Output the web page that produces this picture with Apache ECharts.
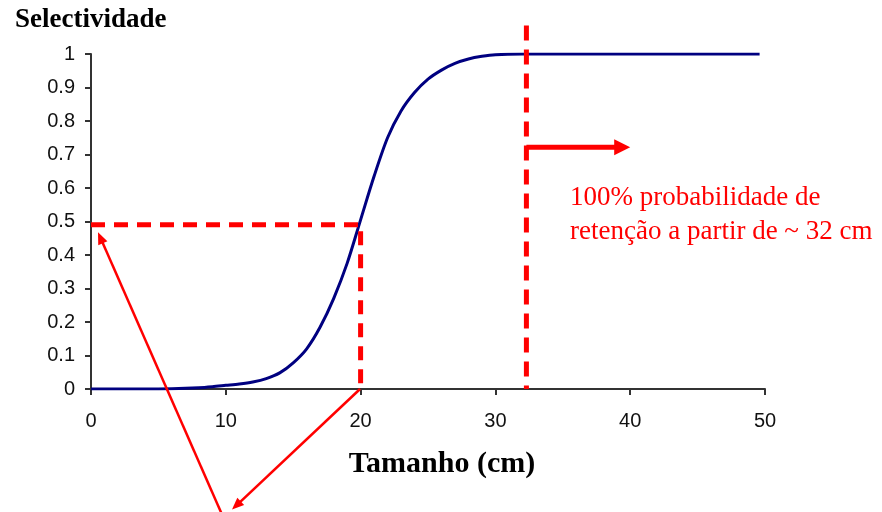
<!DOCTYPE html>
<html>
<head>
<meta charset="utf-8">
<script src="https://cdn.jsdelivr.net/npm/echarts@6/dist/echarts.min.js"></script>
<style>html,body{margin:0;padding:0;background:#fff}#c{width:882px;height:512px}</style>
</head>
<body>
<div id="c"></div>
<script>
// ---- data ----
var sizeCm      = [0, 2, 4, 6, 8, 9, 10, 11, 12, 13, 14, 15, 16, 17, 18, 19, 20, 21, 22, 23, 24, 25, 26, 27, 28, 29, 30, 32, 35, 40, 45, 49.6];
var selectivity = [0, 0, 0, 0.001, 0.004, 0.007, 0.011, 0.015, 0.021, 0.031, 0.048, 0.078, 0.12, 0.185, 0.27, 0.375, 0.505, 0.635, 0.75, 0.83, 0.885, 0.925, 0.952, 0.972, 0.985, 0.993, 0.998, 1, 1, 1, 1, 1];
var xTicks = [0, 10, 20, 30, 40, 50];
var yTicks = [0, 0.1, 0.2, 0.3, 0.4, 0.5, 0.6, 0.7, 0.8, 0.9, 1];
// annotation geometry (in data units)
var l50Path   = [[0, 0.49], [20, 0.49], [20, 0]];
var full100Path = [[32.3, 1.085], [32.3, 0]];
var rightArrow = [[32.3, 0.722, 40, 0.722]];
var pointerArrows = [[9.72, -0.375, 0.52, 0.468], [19.96, 0, 10.46, -0.36]];
var noteText = '100% probabilidade de\nretenção a partir de ~ 32 cm';
var yTitle = 'Selectividade';
var xTitle = 'Tamanho (cm)';

var curve = sizeCm.map(function (x, i) { return [x, selectivity[i]]; });

function arrowRenderer(lineW, headLen, headHalf) {
  return function (params, api) {
    var p1 = api.coord([api.value(0), api.value(1)]);
    var p2 = api.coord([api.value(2), api.value(3)]);
    var dx = p2[0] - p1[0], dy = p2[1] - p1[1];
    var len = Math.sqrt(dx * dx + dy * dy);
    var ux = dx / len, uy = dy / len;
    var bx = p2[0] - ux * headLen, by = p2[1] - uy * headLen;
    var nx = -uy, ny = ux;
    return {
      type: 'group',
      children: [
        { type: 'line', shape: { x1: p1[0], y1: p1[1], x2: bx + ux * 1, y2: by + uy * 1 },
          style: { stroke: '#ff0000', lineWidth: lineW } },
        { type: 'polygon', shape: { points: [[p2[0], p2[1]], [bx + nx * headHalf, by + ny * headHalf], [bx - nx * headHalf, by - ny * headHalf]] },
          style: { fill: '#ff0000' } }
      ]
    };
  };
}

var chart = echarts.init(document.getElementById('c'));
chart.setOption({
  animation: false,
  backgroundColor: '#ffffff',
  grid: { left: 91, right: 117, top: 54, bottom: 123, containLabel: false },
  xAxis: {
    type: 'value', min: xTicks[0], max: xTicks[xTicks.length - 1], interval: 10,
    axisLine: { show: true, onZero: false, lineStyle: { color: '#333', width: 2 } },
    axisTick: { show: true, length: 6, lineStyle: { color: '#333', width: 2 } },
    axisLabel: { margin: 22, fontSize: 20, fontFamily: 'Liberation Sans', color: '#111' },
    splitLine: { show: false }
  },
  yAxis: {
    type: 'value', min: yTicks[0], max: yTicks[yTicks.length - 1], interval: 0.1,
    axisLine: { show: true, onZero: false, lineStyle: { color: '#333', width: 2 } },
    axisTick: { show: true, length: 6, lineStyle: { color: '#333', width: 2 } },
    axisLabel: { margin: 16, fontSize: 20, fontFamily: 'Liberation Sans', color: '#111',
      formatter: function (v) { return String(Math.round(v * 10) / 10); } },
    splitLine: { show: false }
  },
  graphic: [
    { type: 'text', x: 15, y: 20, style: { text: yTitle, font: 'bold 27px "Liberation Serif"', fill: '#000', textVerticalAlign: 'middle' } },
    { type: 'text', x: 442, y: 464, style: { text: xTitle, font: 'bold 30px "Liberation Serif"', fill: '#000', textAlign: 'center', textVerticalAlign: 'middle' } },
    { type: 'text', x: 570, y: 181, style: { text: noteText, font: '27px "Liberation Serif"', fill: '#ff0000', lineHeight: 34, textVerticalAlign: 'top' } }
  ],
  series: [
    { type: 'line', data: curve, showSymbol: false, symbol: 'none', smooth: 0.3,
      lineStyle: { color: '#000080', width: 3 }, z: 3 },
    { type: 'line', data: l50Path, showSymbol: false, symbol: 'none', clip: false,
      lineStyle: { color: '#ff0000', width: 5, type: [14, 9] }, z: 4 },
    { type: 'line', data: full100Path, showSymbol: false, symbol: 'none', clip: false,
      lineStyle: { color: '#ff0000', width: 5, type: [15, 9] }, z: 4 },
    { type: 'custom', data: rightArrow, clip: false, encode: { x: [0, 2], y: [1, 3] },
      renderItem: arrowRenderer(5, 16, 8), z: 5 },
    { type: 'custom', data: pointerArrows, clip: false, encode: { x: [0, 2], y: [1, 3] },
      renderItem: arrowRenderer(2.5, 12, 5), z: 5 }
  ]
});
</script>
</body>
</html>
